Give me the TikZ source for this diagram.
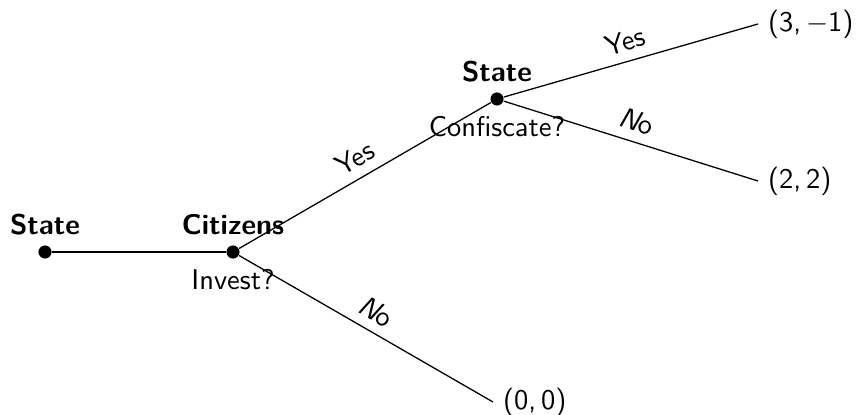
\documentclass[tikz,border=0pt]{standalone}
\usepackage{fontspec}
\begin{document}
\begin{tikzpicture}[x=0.351pt,y=-0.351pt,font=\sffamily,
  dot/.style={circle,fill=black,inner sep=0pt,minimum size=4.6pt},
  player/.style={font=\sffamily\bfseries},
  leaf/.style={anchor=west},
  edge/.style={draw=black,line width=0.45pt},
  elabel/.style={above,sloped,midway}]
\useasboundingbox (0,0) rectangle (867,415);
\node[dot] (r) at (45,252) {};
\node[dot] (c) at (233,252) {};
\node[dot] (s) at (497,99) {};
\coordinate (e1) at (758,24);
\coordinate (e2) at (758,181);
\coordinate (e3) at (493,402);
\node[leaf] (l1) at (e1) {(3,\,$-$1)};
\node[leaf] (l2) at (e2) {(2,\,2)};
\node[leaf] (l3) at (e3) {(0,\,0)};
\node[player,above] (rl) at (r.north) {State};
\node[player,above] (cl) at (c.north) {Citizens};
\node[player,above] (sl) at (s.north) {State};
\node[below] (cq) at (c.south) {Invest?};
\node[below] (sq) at (s.south) {Confiscate?};
\draw[edge] (r) -- (c);
\draw[edge] (c) -- node[elabel] {Yes} (s);
\draw[edge] (c) -- node[elabel] {\itshape N\upshape o} (l3.west);
\draw[edge] (s) -- node[elabel] {Yes} (l1.west);
\draw[edge] (s) -- node[elabel] {\itshape N\upshape o} (l2.west);
\end{tikzpicture}
\end{document}
